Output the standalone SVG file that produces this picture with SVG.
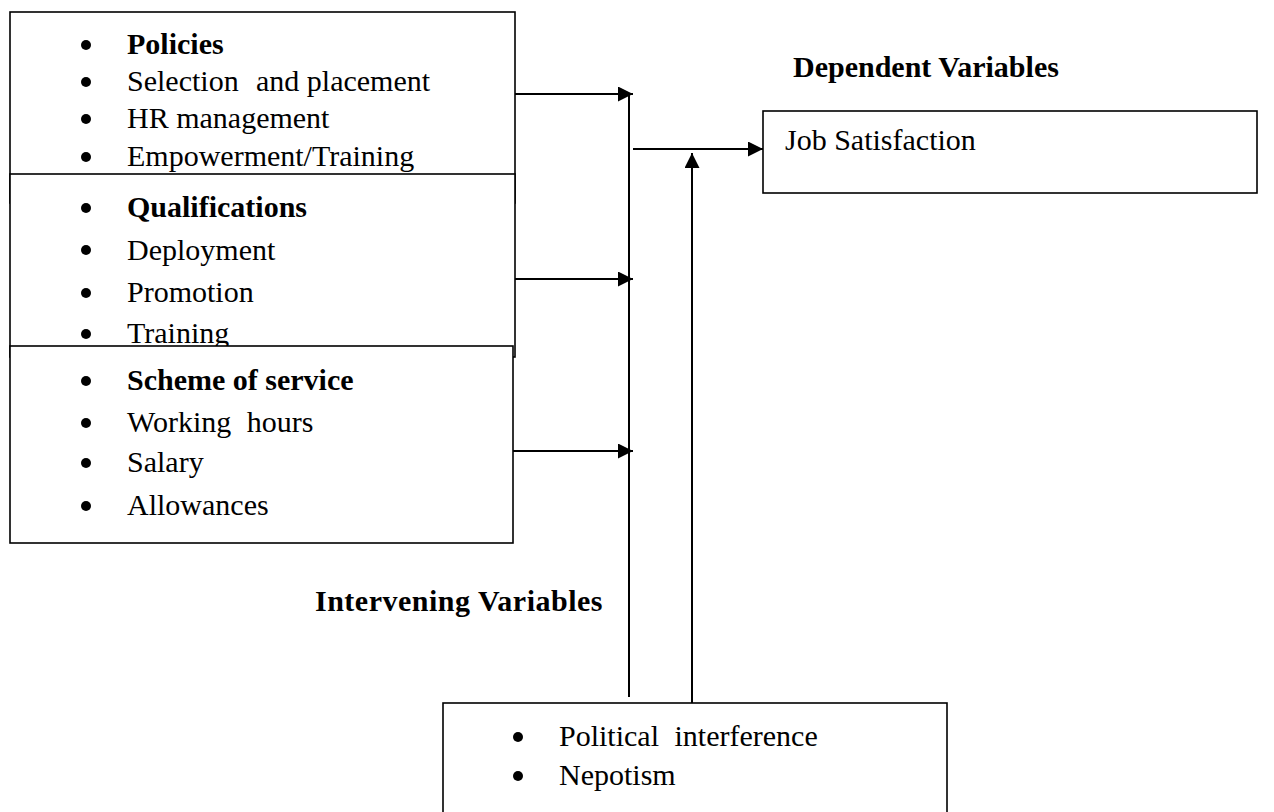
<svg xmlns="http://www.w3.org/2000/svg" width="1274" height="812" viewBox="0 0 1274 812">
<style>
.box{fill:#fff;stroke:#000;stroke-width:1.6}
.t{font-family:"Liberation Serif","Times New Roman",serif;font-size:30px;fill:#000}
.b{font-weight:bold}
.bul{fill:#000}
.c{stroke:#000;stroke-width:2;fill:none}
</style>
<defs>
<marker id="ah" markerUnits="userSpaceOnUse" markerWidth="16" markerHeight="16" refX="15" refY="7.5" orient="auto">
<path d="M0,0 L15,7.5 L0,15 Z" fill="#000"/>
</marker>
</defs>
<rect width="1274" height="812" fill="#fff"/>
<g id="policies">
<rect class="box" x="10" y="12" width="505" height="191"/>
<circle class="bul" cx="86" cy="45" r="5"/>
<circle class="bul" cx="86" cy="82" r="5"/>
<circle class="bul" cx="86" cy="119" r="5"/>
<circle class="bul" cx="86" cy="157" r="5"/>
<text class="t b" x="127" y="54">Policies</text>
<text class="t" x="127" y="91">Selection <tspan x="256">and placement</tspan></text>
<text class="t" x="127" y="128">HR management</text>
<text class="t" x="127" y="166">Empowerment/Training</text>
</g>
<g id="qualifications">
<rect class="box" x="10" y="174" width="505" height="183"/>
<circle class="bul" cx="86" cy="208" r="5"/>
<circle class="bul" cx="86" cy="250" r="5"/>
<circle class="bul" cx="86" cy="293" r="5"/>
<circle class="bul" cx="86" cy="334" r="5"/>
<text class="t b" x="127" y="217">Qualifications</text>
<text class="t" x="127" y="260">Deployment</text>
<text class="t" x="127" y="302">Promotion</text>
<text class="t" x="127" y="343">Training</text>
</g>
<g id="scheme">
<rect class="box" x="10" y="346" width="503" height="197"/>
<circle class="bul" cx="86" cy="381" r="5"/>
<circle class="bul" cx="86" cy="423" r="5"/>
<circle class="bul" cx="86" cy="463" r="5"/>
<circle class="bul" cx="86" cy="506" r="5"/>
<text class="t b" x="127" y="390">Scheme of service</text>
<text class="t" x="127" y="432" word-spacing="8">Working hours</text>
<text class="t" x="127" y="472">Salary</text>
<text class="t" x="127" y="515">Allowances</text>
</g>
<g id="dependent-label">
<text class="t b" x="793" y="77">Dependent Variables</text>
</g>
<g id="job-satisfaction">
<rect class="box" x="763" y="111" width="494" height="82"/>
<text class="t" x="785" y="150">Job Satisfaction</text>
</g>
<g id="intervening-label">
<text class="t b" x="315" y="611" letter-spacing="0.5">Intervening Variables</text>
</g>
<g id="intervening">
<rect class="box" x="443" y="703" width="504" height="130"/>
<circle class="bul" cx="518" cy="737" r="5"/>
<circle class="bul" cx="518" cy="776" r="5"/>
<text class="t" x="559" y="746" word-spacing="8">Political interference</text>
<text class="t" x="559" y="785">Nepotism</text>
</g>
<g id="connectors">
<line class="c" x1="515" y1="94" x2="633" y2="94" marker-end="url(#ah)"/>
<line class="c" x1="515" y1="279" x2="633" y2="279" marker-end="url(#ah)"/>
<line class="c" x1="513" y1="451" x2="633" y2="451" marker-end="url(#ah)"/>
<line class="c" x1="629" y1="94" x2="629" y2="697"/>
<line class="c" x1="633" y1="149" x2="763" y2="149" marker-end="url(#ah)"/>
<line class="c" x1="692" y1="703" x2="692" y2="153" marker-end="url(#ah)"/>
</g>
</svg>
